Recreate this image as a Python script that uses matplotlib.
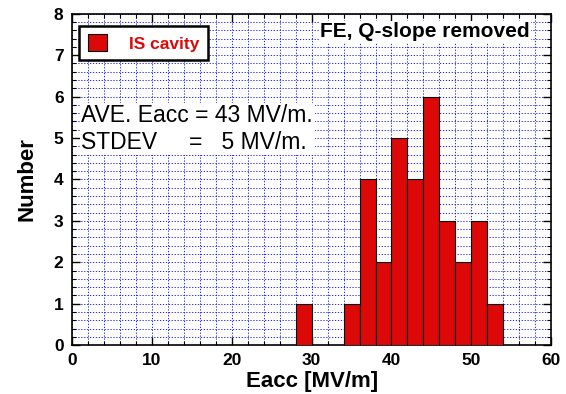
import matplotlib
matplotlib.use("Agg")
import matplotlib.pyplot as plt
from matplotlib.ticker import MultipleLocator

# histogram data (bin left edges, width 2 MV/m)
bin_left = [28, 34, 36, 38, 40, 42, 44, 46, 48, 50, 52]
counts = [1, 1, 4, 2, 5, 4, 6, 3, 2, 3, 1]

plt.rcParams['font.family'] = ['Liberation Sans', 'DejaVu Sans']

fig = plt.figure(figsize=(5.66, 3.94), dpi=100)
ax = fig.add_axes([0.127, 0.124, 0.847, 0.841])

ax.bar(bin_left, counts, width=2, align='edge', color='#dd0808',
       edgecolor='black', linewidth=0.8, zorder=3, label='IS cavity')

ax.set_xlim(0, 60)
ax.set_ylim(0, 8)
ax.xaxis.set_major_locator(MultipleLocator(10))
ax.xaxis.set_minor_locator(MultipleLocator(2))
ax.yaxis.set_major_locator(MultipleLocator(1))
ax.yaxis.set_minor_locator(MultipleLocator(0.2))
ax.grid(True, which='both', color='blue', linestyle=(0, (1.5, 2)), linewidth=0.6, zorder=0)
ax.tick_params(which='both', direction='in', top=True, right=True)
ax.tick_params(which='major', length=6, width=1, pad=6)
ax.tick_params(which='minor', length=3, width=0.8)
for lab in ax.get_xticklabels() + ax.get_yticklabels():
    lab.set_fontweight('bold')
    lab.set_fontsize(12.5)
for s in ax.spines.values():
    s.set_linewidth(1.2)

ax.set_xlabel('Eacc [MV/m]', fontsize=16, fontweight='bold', labelpad=2)
ax.set_ylabel('Number', fontsize=16, fontweight='bold', labelpad=12)

leg = ax.legend(loc='upper left', bbox_to_anchor=(0.0, 0.985), fontsize=12.5,
                frameon=True, fancybox=False, handlelength=1.1, handleheight=1.1,
                borderpad=0.5, handletextpad=1.3, borderaxespad=0.4)
leg.get_frame().set_edgecolor('black')
leg.get_frame().set_linewidth(1.8)
leg.get_frame().set_alpha(1)
for t in leg.get_texts():
    t.set_color('#dd0808')
    t.set_fontweight('bold')

ax.text(0.955, 0.975, 'FE, Q-slope removed', transform=ax.transAxes,
        ha='right', va='top', fontsize=15, fontweight='bold', zorder=5,
        bbox=dict(facecolor='white', edgecolor='none', pad=1))
ax.text(0.02, 0.728, 'AVE. Eacc = 43 MV/m.\nSTDEV     =   5 MV/m.',
        transform=ax.transAxes, ha='left', va='top', fontsize=16.5,
        linespacing=1.22, zorder=5,
        bbox=dict(facecolor='white', edgecolor='none', pad=1))

fig.savefig('out.png', dpi=100)
